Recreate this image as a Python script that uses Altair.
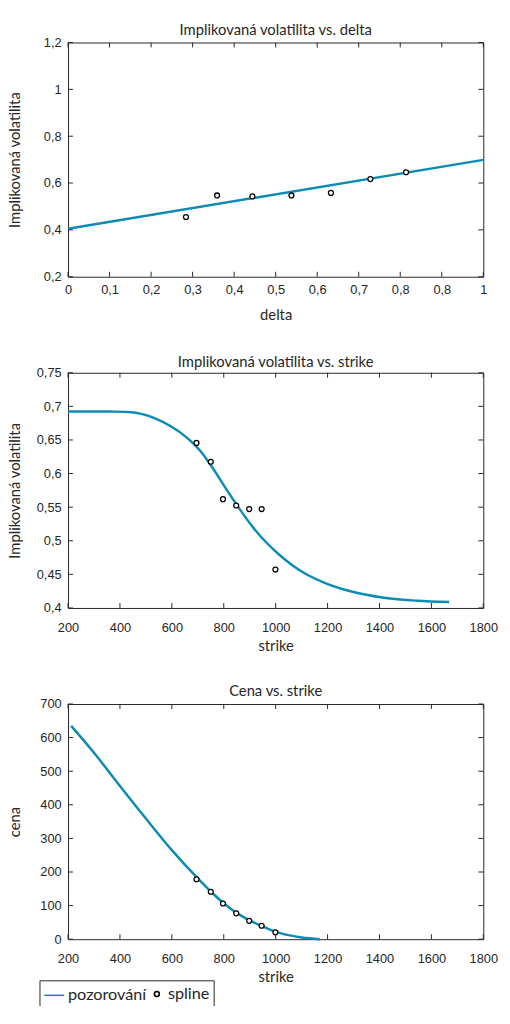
import json
import altair as alt
import pandas as pd

# ---------------- data ----------------
# Chart 1: implied volatility vs delta
delta_ticks = [0, 0.1, 0.2, 0.3, 0.4, 0.5, 0.6, 0.7, 0.8, 0.9, 1.0]
delta_tick_labels = ["0", "0,1", "0,2", "0,3", "0,4", "0,5", "0,6", "0,7", "0,8", "0,8", "1"]
vol1_ticks = [0.2, 0.4, 0.6, 0.8, 1.0, 1.2]
vol1_tick_labels = ["0,2", "0,4", "0,6", "0,8", "1", "1,2"]
fit_delta = [0.0, 1.0]
fit_vol1 = [0.405, 0.699]
obs_delta = [0.284, 0.359, 0.444, 0.538, 0.633, 0.728, 0.814]
obs_vol1 = [0.455, 0.547, 0.543, 0.547, 0.558, 0.617, 0.646]

# Chart 2: implied volatility vs strike
strike_ticks = [200, 400, 600, 800, 1000, 1200, 1400, 1600, 1800]
strike_tick_labels = ["200", "400", "600", "800", "1000", "1200", "1400", "1600", "1800"]
vol2_ticks = [0.4, 0.45, 0.5, 0.55, 0.6, 0.65, 0.7, 0.75]
vol2_tick_labels = ["0,4", "0,45", "0,5", "0,55", "0,6", "0,65", "0,7", "0,75"]
curve_strike = [200, 300, 380, 444, 482, 533, 596, 659, 710, 760, 811, 862, 912, 963,
                1014, 1064, 1115, 1203, 1292, 1418, 1545, 1668]
curve_vol = [0.6924, 0.6924, 0.6922, 0.6914, 0.6889, 0.6826, 0.6704, 0.6532, 0.6337, 0.6068,
             0.5760, 0.5467, 0.5203, 0.4978, 0.4792, 0.4636, 0.4509, 0.4352, 0.4245, 0.4152,
             0.4108, 0.4088]
obs_strike = [695, 750, 797, 848, 898, 946, 999]
obs_vol2 = [0.6456, 0.6176, 0.5619, 0.5525, 0.5472, 0.5472, 0.4572]

# Chart 3: price vs strike
price_ticks = [0, 100, 200, 300, 400, 500, 600, 700]
price_tick_labels = ["0", "100", "200", "300", "400", "500", "600", "700"]
curve_price_strike = [212, 300, 400, 500, 600, 700, 750, 800, 850, 900, 950, 1000, 1050, 1100, 1170]
curve_price = [635, 555, 456, 359, 265, 181, 142, 107, 78, 56, 38, 22, 12, 5, 0]
obs_price = [178.4, 141.3, 106.2, 76.9, 54.7, 40.1, 20.5]

series_names = ["pozorování", "spline"]

# ---------------- style ----------------
LINE = "#0b8bb5"
AX = "#262626"
W = 422
H1, H2, H3 = 238, 239, 239
SPACING = 97.6
TICK = 5


def label_expr(ticks, labels):
    return f"{json.dumps(labels)}[indexof({json.dumps(ticks)}, datum.value)]"


def tick_layers(xticks, yticks, X, Y, h):
    dx = pd.DataFrame({"x": xticks})
    dy = pd.DataFrame({"y": yticks})
    bx = alt.Chart(dx).mark_rule(color=AX, strokeWidth=1)
    by = alt.Chart(dy).mark_rule(color=AX, strokeWidth=1)
    return [
        bx.encode(x=X, y=alt.value(0), y2=alt.value(TICK)),
        bx.encode(x=X, y=alt.value(h), y2=alt.value(h - TICK)),
        by.encode(y=Y, x=alt.value(0), x2=alt.value(TICK)),
        by.encode(y=Y, x=alt.value(W), x2=alt.value(W - TICK)),
    ]


def x_axis(ticks, labels, title, pad):
    return alt.Axis(values=ticks, labelExpr=label_expr(ticks, labels), title=title,
                    labelPadding=pad, labelFlush=False, minExtent=22, maxExtent=22,
                    titlePadding=9)


def y_axis(ticks, labels, title):
    return alt.Axis(values=ticks, labelExpr=label_expr(ticks, labels), title=title,
                    labelPadding=7, labelFlush=False, minExtent=40, maxExtent=40,
                    titlePadding=6)


def point_mark(df):
    return alt.Chart(df).mark_point(
        shape="circle", filled=False, fill="white", stroke="black",
        strokeWidth=1.3, size=25, opacity=1)


# ---------------- chart 1 ----------------
X1 = alt.X("x:Q", scale=alt.Scale(domain=[0, 1], nice=False),
           axis=x_axis(delta_ticks, delta_tick_labels, "delta", 7))
Y1 = alt.Y("y:Q", scale=alt.Scale(domain=[0.2, 1.2], nice=False),
           axis=y_axis(vol1_ticks, vol1_tick_labels, "Implikovaná volatilita"))
line1 = alt.Chart(pd.DataFrame({"x": fit_delta, "y": fit_vol1})).mark_line(
    color=LINE, strokeWidth=2.5).encode(x=X1, y=Y1)
pts1 = point_mark(pd.DataFrame({"x": obs_delta, "y": obs_vol1})).encode(x=X1, y=Y1)
c1 = alt.layer(line1, pts1, *tick_layers(delta_ticks, vol1_ticks, X1, Y1, H1)).properties(
    width=W, height=H1,
    title=alt.TitleParams("Implikovaná volatilita vs. delta", offset=-1))

# ---------------- chart 2 ----------------
X2 = alt.X("x:Q", scale=alt.Scale(domain=[200, 1800], nice=False),
           axis=x_axis(strike_ticks, strike_tick_labels, "strike", 13.5))
Y2 = alt.Y("y:Q", scale=alt.Scale(domain=[0.4, 0.75], nice=False),
           axis=y_axis(vol2_ticks, vol2_tick_labels, "Implikovaná volatilita"))
line2 = alt.Chart(pd.DataFrame({"x": curve_strike, "y": curve_vol})).mark_line(
    color=LINE, strokeWidth=2.5, interpolate="monotone").encode(x=X2, y=Y2)
pts2 = point_mark(pd.DataFrame({"x": obs_strike, "y": obs_vol2})).encode(x=X2, y=Y2)
c2 = alt.layer(line2, pts2, *tick_layers(strike_ticks, vol2_ticks, X2, Y2, H2)).properties(
    width=W, height=H2,
    title=alt.TitleParams("Implikovaná volatilita vs. strike", offset=-3))

# ---------------- chart 3 ----------------
X3 = alt.X("x:Q", scale=alt.Scale(domain=[200, 1800], nice=False),
           axis=x_axis(strike_ticks, strike_tick_labels, "strike", 13.5))
Y3 = alt.Y("y:Q", scale=alt.Scale(domain=[0, 700], nice=False),
           axis=y_axis(price_ticks, price_tick_labels, "cena"))
leg = alt.Legend(title=None, orient="none", legendX=-29, legendY=953, direction="horizontal",
                 strokeColor=AX, fillColor="white", padding=4, labelFont="Lato",
                 labelFontSize=16.5, labelColor=AX, symbolStrokeWidth=1.6,
                 columnPadding=2, labelOffset=3)
line3 = alt.Chart(pd.DataFrame({"x": curve_price_strike, "y": curve_price})).mark_line(
    color=LINE, strokeWidth=2.5, interpolate="monotone").encode(x=X3, y=Y3)
pts3 = alt.Chart(pd.DataFrame({"x": obs_strike, "y": obs_price,
                               "s": ["spline"] * len(obs_price)})).mark_point(
    filled=False, fill="white", strokeWidth=1.3, opacity=1
).encode(
    x=X3, y=Y3,
    color=alt.Color("s:N", scale=alt.Scale(domain=series_names, range=[LINE, "black"]), legend=leg),
    shape=alt.Shape("s:N", scale=alt.Scale(domain=series_names, range=["stroke", "circle"]), legend=leg),
    size=alt.Size("s:N", scale=alt.Scale(type="point", padding=0, domain=series_names,
                                         range=[400, 25]), legend=leg),
)
c3 = alt.layer(line3, pts3, *tick_layers(strike_ticks, price_ticks, X3, Y3, H3)).properties(
    width=W, height=H3,
    title=alt.TitleParams("Cena vs. strike", offset=-1))

# With autosize "none" the view is W wide and 0 high, so the padding sets the page size.
chart = alt.vconcat(c1, c2, c3, spacing=SPACING, bounds="flush").properties(
    autosize=alt.AutoSizeParams(type="none"),
    padding={"left": 61, "top": 27, "right": 502 - 61 - W, "bottom": 998 - 27},
).configure_view(stroke=AX, strokeWidth=1).configure_axis(
    grid=False, ticks=False, tickSize=0, domain=False,
    labelFont="Liberation Sans", labelFontSize=13, labelColor=AX,
    titleFont="Lato", titleFontSize=15, titleFontWeight="normal", titleColor=AX,
).configure_title(font="Lato", fontSize=15, fontWeight="normal", color=AX)

chart.save("out.html", embed_options={"renderer": "svg", "actions": False})
